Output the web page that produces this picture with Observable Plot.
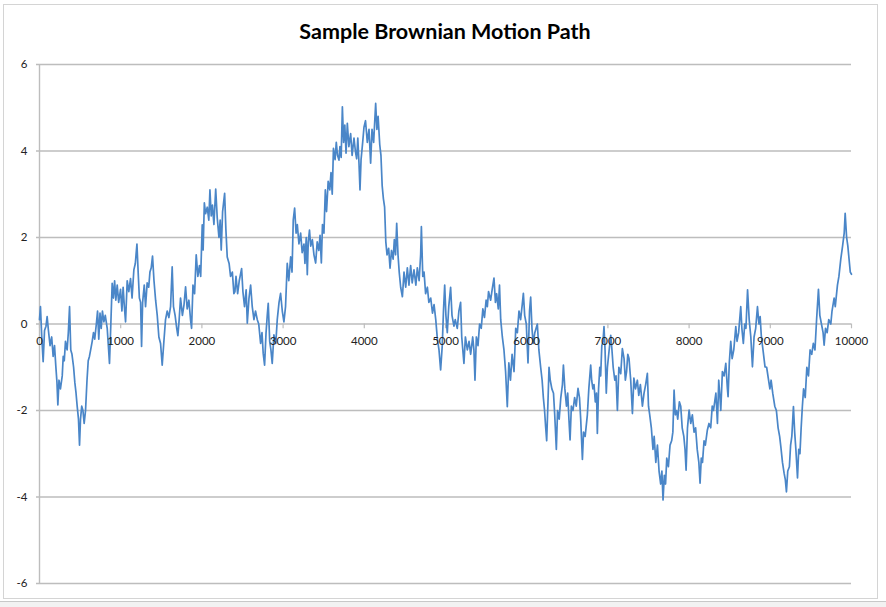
<!DOCTYPE html>
<html>
<head>
<meta charset="utf-8">
<script src="https://cdn.jsdelivr.net/npm/d3@7"></script>
<script src="https://cdn.jsdelivr.net/npm/@observablehq/plot@0.6"></script>
<style>
  html, body { margin: 0; padding: 0; background: #ffffff; }
  #chart { position: relative; width: 886px; height: 607px; overflow: hidden; background: #fff; }
  #frame { position: absolute; left: 3px; top: 4px; width: 875px; height: 595px; border: 1px solid #d4d4d4; box-sizing: border-box; }
  #strip { position: absolute; left: 0; top: 601px; width: 886px; height: 6px; background: #f2f2f2; border-top: 1px solid #c8c8c8; }
  #title { position: absolute; left: 0; top: 18px; width: 890px; text-align: center; font-family: Lato, "Open Sans", sans-serif; font-weight: bold; font-size: 21.5px; color: #000; }
  #plot { position: absolute; left: 0; top: 0; }
</style>
</head>
<body>
<div id="chart">
  <div id="frame"></div>
  <div id="strip"></div>
  <div id="plot"></div>
  <div id="title"></div>
</div>
<script>
const chartTitle = "Sample Brownian Motion Path";
const yTickValues = [-6, -4, -2, 0, 2, 4, 6];
const xTickValues = [0, 1000, 2000, 3000, 4000, 5000, 6000, 7000, 8000, 9000, 10000];

const steps = [
0,12,28,45,62,80,94,110,130,150,168,185,200,215,226,240,258,280,292,305,320,340,355,370,385,400,420,435,450,464,480,493,505,520,535,550,567,585,600,615,630,649,665,680,700,715,730,745,760,775,793,810,834,848,862,875,895,910,925,940,957,975,998,
1015,1030,1045,1060,1080,1100,1121,1140,1162,1180,1200,1215,1230,1245,1257,1270,1290,1306,1326,1345,1360,1376,1392,1410,1430,1450,1470,1491,1511,1532,1552,1573,1593,1614,1634,1650,1670,1690,1704,1720,1737,1760,1780,1799,1819,1840,1860,1873,1890,1910,1930,1950,1970,1985,
2004,2015,2030,2045,2066,2085,2099,2115,2130,2148,2170,2189,2210,2225,2238,2255,2280,2295,2312,2335,2353,2375,2394,2407,2420,2440,2460,2489,2505,2525,2545,2559,2580,2600,2620,2641,2660,2682,2700,2723,2740,2755,2772,2790,2805,2817,2835,2850,2866,2887,2910,2928,2950,2969,2990,
3010,3030,3051,3070,3093,3110,3125,3142,3160,3175,3195,3216,3235,3257,3269,3285,3298,3310,3325,3340,3360,3380,3401,3420,3440,3455,3471,3485,3503,3520,3535,3555,3575,3590,3605,3620,3640,3655,3670,3688,3700,3715,3730,3745,3760,3775,3791,3810,3832,3850,3873,3890,3906,3920,3935,3947,3960,3980,3996,
4015,4037,4058,4078,4095,4115,4140,4155,4170,4190,4205,4220,4235,4250,4265,4280,4300,4317,4335,4355,4370,4385,4399,4415,4430,4448,4469,4489,4510,4530,4550,4571,4590,4612,4635,4653,4675,4694,4703,4720,4736,4755,4777,4795,4818,4840,4859,4880,4900,4920,4940,4960,4975,4990,
5005,5022,5040,5063,5080,5104,5120,5145,5165,5186,5200,5227,5245,5269,5290,5310,5335,5350,5363,5380,5400,5420,5440,5460,5480,5500,5515,5530,5556,5575,5597,5615,5630,5650,5665,5680,5700,5720,5740,5761,5780,5800,5820,5844,5865,5885,5905,5925,5945,5959,5975,5995,
6016,6035,6049,6065,6080,6100,6131,6150,6172,6190,6205,6220,6234,6246,6262,6275,6290,6310,6330,6345,6365,6380,6400,6420,6440,6452,6470,6490,6505,6520,6534,6550,6570,6590,6610,6632,6650,6665,6686,6700,6720,6747,6765,6788,6800,6815,6829,6845,6860,6870,6885,6900,6911,6925,6940,6952,6965,6980,6994,
7010,7035,7050,7065,7085,7100,7117,7135,7158,7178,7199,7215,7230,7245,7260,7281,7302,7320,7340,7363,7380,7400,7425,7445,7465,7486,7500,7515,7535,7555,7570,7590,7610,7630,7650,7665,7679,7695,7710,7725,7745,7765,7785,7800,7815,7830,7845,7860,7880,7897,7915,7935,7950,7963,7980,
8000,8020,8040,8061,8080,8100,8120,8135,8150,8165,8184,8200,8225,8245,8266,8285,8300,8308,8330,8349,8365,8380,8390,8410,8431,8452,8472,8480,8495,8513,8530,8550,8575,8590,8610,8636,8650,8668,8685,8700,8720,8740,8760,8780,8800,8820,8842,8860,8875,8890,8910,8935,8955,8975,8995,
9010,9030,9055,9075,9096,9115,9130,9150,9170,9185,9199,9215,9235,9250,9265,9285,9300,9315,9335,9350,9365,9380,9395,9410,9430,9450,9470,9490,9510,9530,9550,9570,9593,9610,9630,9650,9663,9680,9700,9720,9745,9760,9786,9800,9827,9845,9868,9890,9910,9922,9940,9955,9970,9985,10000
];

const positions = [
0.10,0.40,-0.30,-0.87,-0.15,-0.05,0.17,-0.15,-0.50,-0.30,-0.75,-0.50,-0.95,-1.35,-1.87,-1.30,-1.50,-1.20,-0.75,-0.85,-0.40,-0.60,-0.20,0.40,-0.60,-0.70,-1.00,-1.35,-1.60,-1.90,-2.20,-2.80,-2.20,-1.90,-2.00,-2.30,-2.00,-1.30,-0.85,-0.75,-0.60,-0.40,-0.20,-0.35,0.00,0.30,-0.35,0.25,-0.10,0.30,0.05,0.20,-0.10,-0.50,-0.91,-0.20,0.94,0.60,1.00,0.55,0.90,0.50,0.80,
0.30,0.85,0.40,0.05,1.00,0.75,1.05,0.60,1.25,1.40,1.85,1.20,0.60,0.50,-0.52,0.50,0.90,0.40,0.95,0.85,1.20,1.30,1.57,1.00,0.55,0.20,-0.30,-0.45,-0.95,-0.40,0.10,0.30,0.15,0.40,1.32,0.40,0.20,-0.10,-0.27,0.10,0.60,0.20,0.45,0.86,0.35,0.55,0.10,-0.10,0.90,0.70,1.60,1.10,1.35,1.10,
2.29,1.71,2.80,2.55,2.70,2.40,3.10,2.50,2.75,2.30,3.12,2.45,2.00,2.40,1.71,2.60,3.02,2.20,1.55,1.40,1.10,1.20,0.70,0.75,1.10,0.70,1.00,1.28,0.75,0.40,0.79,0.02,0.60,0.90,0.40,0.10,0.30,0.10,0.00,-0.45,-0.20,-0.68,-0.95,-0.20,0.20,0.48,-0.40,-0.60,-0.91,-0.25,-0.45,0.10,0.50,0.71,0.30,
0.05,0.40,1.40,1.00,1.55,1.20,2.40,2.68,2.10,2.30,1.85,2.10,1.65,1.85,1.40,2.00,1.14,1.90,2.17,1.80,1.95,1.60,1.41,1.90,1.70,2.05,1.41,2.30,2.10,3.10,2.60,3.30,3.10,3.50,3.00,4.06,3.80,4.20,3.90,3.79,4.10,3.85,5.02,4.20,4.60,3.95,4.64,4.10,4.40,3.90,4.30,4.00,3.82,4.30,3.70,3.10,3.80,4.20,4.55,
4.70,4.20,4.50,3.72,4.50,4.20,5.10,4.50,4.80,4.15,3.90,3.20,2.90,2.70,1.90,1.60,1.75,1.29,1.70,1.50,1.95,1.60,2.33,1.60,1.20,0.85,0.63,1.20,0.85,1.30,0.90,1.35,0.95,1.25,0.90,1.30,1.00,1.60,2.25,1.10,1.20,0.70,0.85,0.50,0.60,0.25,0.45,0.10,-0.35,-0.60,-1.06,-0.50,0.30,0.90,
0.20,-0.20,0.40,0.85,0.20,-0.05,0.10,-0.10,0.30,0.50,-0.30,-0.91,-0.30,-0.60,-0.40,-0.70,-0.30,-0.60,-1.30,-0.30,-0.50,0.00,-0.10,0.35,0.15,0.55,0.40,0.75,0.55,0.80,1.06,0.50,0.70,0.35,0.90,0.10,-0.30,-0.60,-1.10,-1.91,-0.90,-1.30,-0.70,-1.10,-0.10,-0.20,0.30,0.10,0.45,0.71,0.20,0.00,
-0.90,0.30,0.62,-0.10,-0.45,-0.20,0.00,-0.60,-1.00,-1.30,-1.70,-2.00,-2.40,-2.70,-1.80,-1.00,-1.30,-1.50,-1.60,-2.10,-2.90,-2.00,-2.20,-1.70,-1.40,-0.95,-1.50,-1.90,-1.60,-2.20,-2.68,-1.90,-2.00,-1.70,-1.90,-1.49,-1.70,-2.20,-3.13,-2.50,-2.60,-2.10,-1.50,-0.95,-1.30,-1.50,-1.40,-1.80,-1.60,-2.53,-1.50,-1.00,-1.20,-0.50,-0.40,-0.06,-0.60,-1.60,-1.00,
-0.70,-0.26,-0.60,-1.00,-1.30,-1.20,-2.00,-1.00,-1.15,-0.57,-0.80,-1.30,-1.10,-0.70,-0.80,-1.30,-2.07,-1.25,-1.50,-1.30,-1.65,-1.40,-1.90,-1.60,-1.40,-1.14,-1.90,-2.10,-2.40,-2.90,-2.60,-3.20,-2.80,-3.40,-3.70,-3.40,-4.07,-3.50,-3.70,-3.10,-3.30,-2.80,-2.70,-2.50,-1.53,-2.10,-2.00,-2.20,-1.80,-1.90,-2.40,-2.60,-2.90,-3.38,-2.40,
-1.99,-2.30,-2.10,-2.50,-2.40,-2.90,-3.20,-3.68,-3.10,-3.20,-2.70,-2.80,-2.45,-2.30,-2.40,-1.90,-2.00,-1.90,-1.60,-2.30,-1.30,-1.70,-2.00,-1.10,-1.20,-0.91,-1.50,-1.68,-0.90,-0.40,-0.80,-0.60,-0.06,-0.40,-0.20,0.40,-0.10,-0.45,0.00,-0.10,0.79,0.10,-0.30,-0.99,-0.30,-0.10,0.40,0.00,0.17,-0.30,-0.60,-0.99,-1.00,-1.25,-1.50,
-1.30,-1.60,-1.90,-2.00,-2.40,-2.60,-2.84,-3.20,-3.45,-3.60,-3.88,-3.40,-3.30,-2.80,-2.60,-1.91,-2.50,-2.90,-3.56,-2.90,-3.00,-2.40,-1.90,-1.50,-1.70,-1.00,-1.20,-0.60,-0.70,-0.45,-0.60,0.10,0.80,0.20,0.00,-0.20,-0.49,-0.10,-0.20,0.10,0.00,0.30,0.60,0.40,0.90,1.10,1.50,1.80,2.10,2.56,2.00,1.80,1.50,1.20,1.15
];

const pathRows = steps.map((s, i) => ({step: s, position: positions[i]}));

document.getElementById("title").textContent = chartTitle;

const fontFam = "Lato, 'Open Sans', sans-serif";

const plot = Plot.plot({
  width: 886,
  height: 607,
  marginLeft: 39,
  marginRight: 35,
  marginTop: 64,
  marginBottom: 24,
  style: {background: "transparent", fontFamily: fontFam, color: "#222"},
  x: {domain: [0, 10000], axis: null},
  y: {domain: [-6, 6], axis: null},
  marks: [
    Plot.ruleY(yTickValues, {x1: -37, x2: 10000, stroke: "#bdbdbd", strokeWidth: 1.4}),
    Plot.ruleX([0], {y1: -6, y2: 6, stroke: "#bdbdbd", strokeWidth: 1.4}),
    Plot.ruleX(xTickValues, {y1: 0, y2: -0.11, stroke: "#bdbdbd", strokeWidth: 1.2}),
    Plot.text(yTickValues, {x: 0, y: d => d, text: d => String(d), dx: -12, textAnchor: "end", fontSize: 11.5, fill: "#222"}),
    Plot.line(pathRows, {x: "step", y: "position", stroke: "#4a86c8", strokeWidth: 1.7, strokeLinejoin: "round"}),
    Plot.text(xTickValues, {x: d => d, y: 0, text: d => String(d), dy: 17, fontSize: 11.5, fill: "#222"})
  ]
});
document.getElementById("plot").appendChild(plot);
</script>
</body>
</html>
